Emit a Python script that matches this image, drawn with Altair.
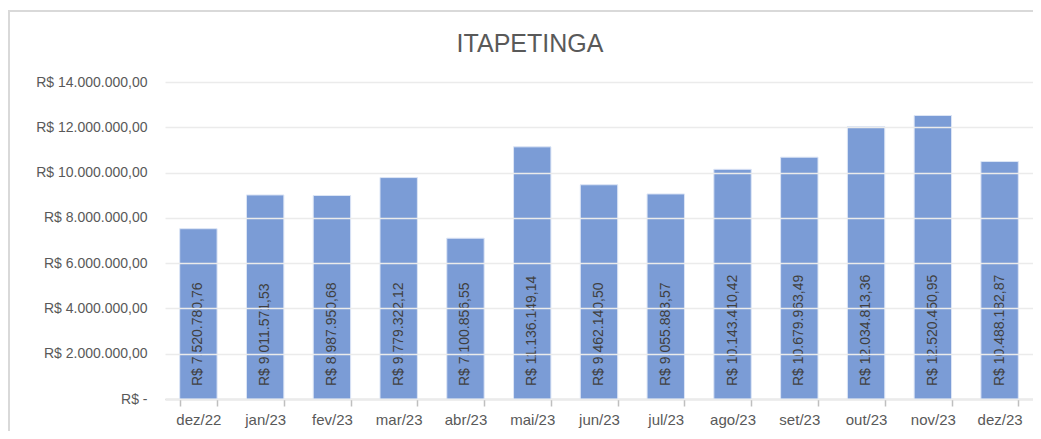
import altair as alt
import pandas as pd

months = ["dez/22", "jan/23", "fev/23", "mar/23", "abr/23", "mai/23", "jun/23",
          "jul/23", "ago/23", "set/23", "out/23", "nov/23", "dez/23"]
values = [7520780.76, 9011571.53, 8987950.68, 9779322.12, 7100856.55, 11136149.14,
          9462140.50, 9055883.57, 10143410.42, 10679963.49, 12034813.36, 12520450.95,
          10488182.87]
y_ticks = [0, 2000000, 4000000, 6000000, 8000000, 10000000, 12000000, 14000000]
title_text = "ITAPETINGA"

df = pd.DataFrame({"mes": months, "valor": values})

W, H = 868, 317
FONT = "Liberation Sans"
TXT = "#595959"

base = alt.Chart(df)

x_enc = alt.X("mes:N", sort=months, title=None,
              scale=alt.Scale(paddingInner=0.44, paddingOuter=0.22),
              axis=alt.Axis(labelAngle=0, labelFont=FONT, labelFontSize=15,
                            labelColor=TXT, domainColor="#BFBFBF", domainWidth=1.5,
                            tickColor="#BFBFBF", tickSize=7, tickWidth=1.5,
                            tickBand="extent", labelPadding=6, grid=False))

bars = base.mark_bar(color="#7B9CD6", stroke="#DCE5F5", strokeWidth=1).encode(
    x=x_enc,
    y=alt.Y("valor:Q", title=None,
            scale=alt.Scale(domain=[0, 14000000], nice=False),
            axis=alt.Axis(values=y_ticks, format="$,.2f",
                          labelExpr="datum.value == 0 ? 'R$ -' : datum.label",
                          labelFont=FONT, labelFontSize=14, labelColor=TXT,
                          domain=False, ticks=False, labelPadding=18,
                          grid=True, gridColor="#EBEBEB", gridWidth=1.3,
                          zindex=1)),
)

labels = base.mark_text(angle=270, align="left", baseline="middle", dx=13,
                        font=FONT, fontSize=14, color="#404040").encode(
    x=alt.X("mes:N", sort=months),
    y=alt.datum(0),
    text=alt.Text("valor:Q", format="$,.2f"),
)

title = alt.Chart(pd.DataFrame({"t": [title_text]})).mark_text(
    font=FONT, fontSize=25, color=TXT, align="center", baseline="alphabetic"
).encode(x=alt.value(W / 2 - 69), y=alt.value(-30), text="t:N")

border = base.mark_rect(fill=None, stroke="#D9D9D9", strokeWidth=1.5).encode(
    x=alt.value(-156), x2=alt.value(W + 30), y=alt.value(-71), y2=alt.value(H + 60)
)

chart = alt.layer(bars, labels, title, border).properties(
    width=W, height=H,
    padding={"left": 157, "top": 74, "right": 0, "bottom": 32},
    autosize=alt.AutoSizeParams(type="none"),
).configure(
    locale={"number": {"decimal": ",", "thousands": ".", "grouping": [3],
                       "currency": ["R$ ", ""]}}
).configure_view(stroke=None)

chart.save("out.html", embed_options={"renderer": "svg", "actions": False})
